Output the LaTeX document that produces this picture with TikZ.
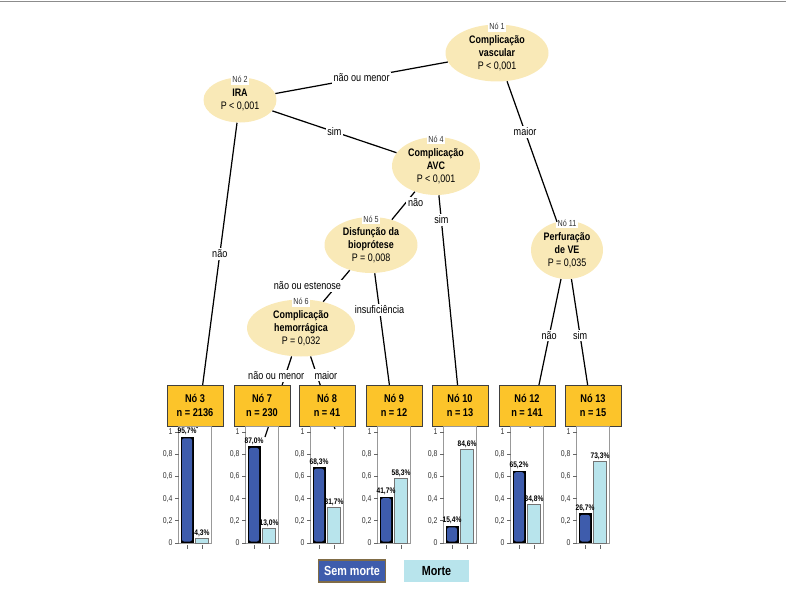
\documentclass[tikz,border=0pt]{standalone}
\usepackage{fontspec}
\setmainfont[FakeStretch=0.82]{Liberation Sans}
\usetikzlibrary{shapes.geometric}
\definecolor{splitfill}{RGB}{249,233,183}
\definecolor{leafgold}{RGB}{252,196,42}
\definecolor{semblue}{RGB}{62,92,172}
\definecolor{morteblue}{RGB}{184,228,236}
\definecolor{legborder}{RGB}{128,108,70}

\begin{document}
\begin{tikzpicture}[x=0.02cm, y=-0.02cm,
    splitnode/.style={ellipse, fill=splitfill, inner sep=0pt, align=center, font=\fontsize{6.2}{7.4}\selectfont},
    notag/.style={fill=white, inner sep=1pt, yshift=-4.5pt, font=\fontsize{5}{6}\selectfont, text=black!80},
    branch/.style={line width=0.7pt},
    cond/.style={fill=white, inner sep=1pt, font=\fontsize{6.3}{7}\selectfont},
    leaf/.style={rectangle, draw=black!75, fill=leafgold, minimum width=1.12cm, minimum height=0.82cm, align=center, font=\bfseries\fontsize{6.4}{7.6}\selectfont},
    plotframe/.style={draw=black!40, line width=0.5pt},
    axisline/.style={draw=black!60, line width=0.4pt},
    ticklab/.style={inner sep=1pt, text=black!80, font=\fontsize{4.8}{5}\selectfont},
    pct/.style={inner sep=0.8pt, font=\bfseries\fontsize{4.6}{5}\selectfont},
    legdark/.style={draw=legborder, line width=0.6pt, fill=semblue, text=white, minimum width=1.32cm, minimum height=0.44cm, font=\bfseries\fontsize{7.5}{8}\selectfont},
    leglight/.style={fill=morteblue, minimum width=1.3cm, minimum height=0.44cm, font=\bfseries\fontsize{7.5}{8}\selectfont}]
    \useasboundingbox (0,0) rectangle (786,599);
    \draw[black!45, line width=0.5pt] (0,1.5) -- (786,1.5);

    \foreach \lab/\tx/\ty in {3/197/428, 7/265/437, 8/335/429, 9/394/420, 10/461/420, 12/530/428, 13/593/420}
        \coordinate (t\lab) at (\tx,\ty);

    \node[splitnode, minimum width=2.06cm, minimum height=1.14cm, label={[notag]above:Nó 1}] (e1) at (497,53) {\textbf{Complicação}\\\textbf{vascular}\\P < 0,001};
    \node[splitnode, minimum width=1.46cm, minimum height=0.9cm, label={[notag]above:Nó 2}] (e2) at (240,100) {\textbf{IRA}\\P < 0,001};
    \node[splitnode, minimum width=1.76cm, minimum height=1.16cm, label={[notag]above:Nó 4}] (e4) at (436,166) {\textbf{Complicação}\\\textbf{AVC}\\P < 0,001};
    \node[splitnode, minimum width=1.86cm, minimum height=1.12cm, label={[notag]above:Nó 5}] (e5) at (371,245) {\textbf{Disfunção da}\\\textbf{bioprótese}\\P = 0,008};
    \node[splitnode, minimum width=2.16cm, minimum height=1.14cm, label={[notag]above:Nó 6}] (e6) at (301,328) {\textbf{Complicação}\\\textbf{hemorrágica}\\P = 0,032};
    \node[splitnode, minimum width=1.44cm, minimum height=1.16cm, label={[notag]above:Nó 11}] (e11) at (567,250) {\textbf{Perfuração}\\\textbf{de VE}\\P = 0,035};

    \draw[branch] (e1) -- node[cond] {não ou menor} (e2);
    \draw[branch] (e1) -- node[cond, pos=.36] {maior} (e11);
    \draw[branch] (e2) -- node[cond, pos=.43] {não} (t3);
    \draw[branch] (e2) -- node[cond] {sim} (e4);
    \draw[branch] (e4) -- node[cond, pos=.4, anchor=west] {não} (e5);
    \draw[branch] (e4) -- node[cond, pos=.11] {sim} (t10);
    \draw[branch] (e5) -- node[cond, xshift=-0.58cm] {não ou estenose} (e6);
    \draw[branch] (e5) -- node[cond, pos=.25] {insuficiência} (t9);
    \draw[branch] (e6) -- node[cond, pos=.24, xshift=-0.18cm] {não ou menor} (t7);
    \draw[branch] (e6) -- node[cond, pos=.26, xshift=0.18cm] {maior} (t8);
    \draw[branch] (e11) -- node[cond, pos=.38] {não} (t12);
    \draw[branch] (e11) -- node[cond, pos=.4] {sim} (t13);

    \foreach \cx/\lab/\n/\va/\vb/\pa/\pb in {195/3/2136/.957/.043/{95,7}/{4,3}, 262/7/230/.87/.13/{87,0}/{13,0}, 327/8/41/.683/.317/{68,3}/{31,7}, 394/9/12/.417/.583/{41,7}/{58,3}, 460/10/13/.154/.846/{15,4}/{84,6}, 527/12/141/.652/.348/{65,2}/{34,8}, 593/13/15/.267/.733/{26,7}/{73,3}} {
        \node[leaf] (n\lab) at (\cx,405.5) {Nó \lab\\n = \n};
        \draw[plotframe] (\cx-16.5,426) rectangle (\cx+16.5,543);
        \foreach \t/\tl in {0/0, 0.2/{0,2}, 0.4/{0,4}, 0.6/{0,6}, 0.8/{0,8}, 1/1}
            \draw[axisline] (\cx-16.5,543-111*\t) -- ++(-4,0) node[ticklab, left] {\tl};
        \fill (\cx-14.5,543) rectangle (\cx-1.5,543-111*\va);
        \fill[semblue, rounded corners=1.2pt] (\cx-13,541.5) rectangle (\cx-3,543-111*\va+1.5);
        \draw[fill=morteblue, draw=black!55, line width=0.4pt] (\cx+0.5,543) rectangle (\cx+13.5,543-111*\vb);
        \node[pct, above] at (\cx-8,543-111*\va) {\pa\%};
        \node[pct, above] at (\cx+7,543-111*\vb) {\pb\%};
        \draw[axisline] (\cx-8,545) -- ++(0,4);
        \draw[axisline] (\cx+7,545) -- ++(0,4);
    }

    \node[legdark] (semmorte) at (352,571) {Sem morte};
    \node[leglight] (morte) at (436.5,571) {Morte};
\end{tikzpicture}
\end{document}
